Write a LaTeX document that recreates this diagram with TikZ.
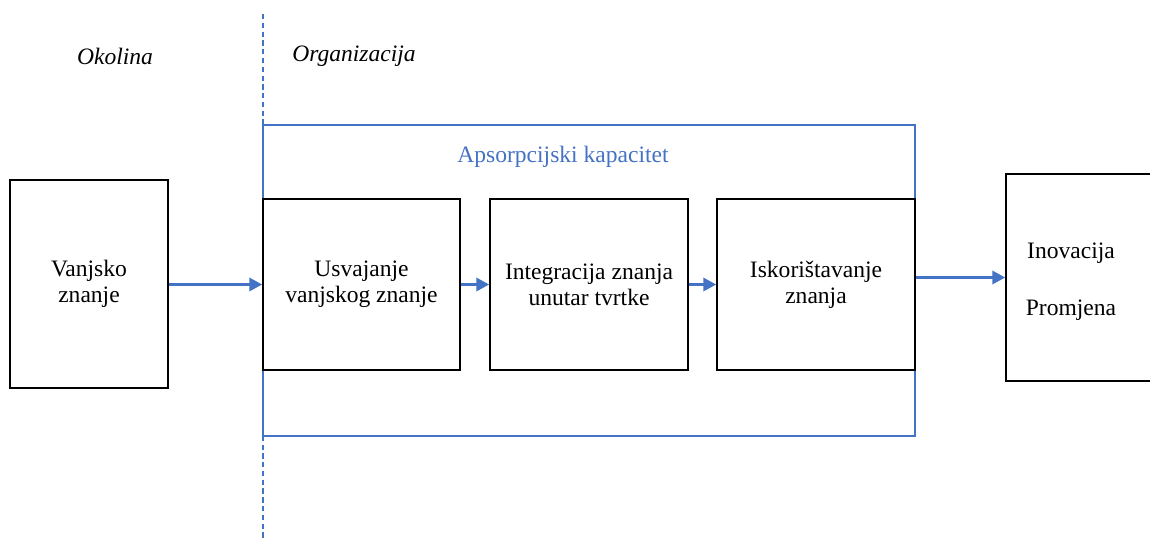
\documentclass[tikz,border=0pt]{standalone}
\usepackage{fontspec}
\setmainfont{Liberation Serif}
\usetikzlibrary{arrows.meta}
\definecolor{officeblue}{RGB}{68,114,196}

\begin{document}
\begin{tikzpicture}[x=0.2mm, y=-0.2mm,
		every node/.style={font=\fontsize{13.4}{14.8}\selectfont},
		stepbox/.style={draw=black, line width=0.8pt, align=center, inner sep=0pt},
		flow/.style={draw=officeblue, line width=1.9pt, -{Triangle[length=2.6mm, width=2.6mm]}},
		side/.style={font=\fontsize{13.4}{14.8}\itshape}]
	\useasboundingbox (0, 0) rectangle (1150, 540);
	
	% granica okolina / organizacija
	\draw[officeblue, line width=0.7pt, dash pattern=on 3pt off 2pt] (263, 14) -- (263, 540);
	\node[side] (okolina) at (115, 56) {Okolina};
	\node[side] (organizacija) at (354, 56) {Organizacija};
	
	% apsorpcijski kapacitet
	\draw[officeblue, line width=0.7pt] (263, 125) rectangle (915, 436);
	\node[text=officeblue] (kapacitet) at (563, 157) {Apsorpcijski kapacitet};
	
	\node[stepbox, minimum width=31.6mm, minimum height=41.6mm] (vanjsko) at (89, 284) {Vanjsko\\znanje};
	\node[stepbox, minimum width=39.4mm, minimum height=34.2mm] (usvajanje) at (361.5, 284.5) {Usvajanje\\vanjskog znanje};
	\node[stepbox, minimum width=39.6mm, minimum height=34.2mm] (integracija) at (589, 284.5) {Integracija znanja\\unutar tvrtke};
	\node[stepbox, minimum width=39.6mm, minimum height=34.2mm] (iskoristavanje) at (816, 284.5) {Iskorištavanje\\znanja};
	
	\node[stepbox, minimum width=34mm, minimum height=41.4mm] (ishod) at (1091, 277.5) {};
	\node (inovacija) at (1071, 253) {Inovacija};
	\node (promjena) at (1071, 310) {Promjena};
	
	\draw[flow] (vanjsko.east |- usvajanje.west) -- (usvajanje.west);
	\draw[flow] (usvajanje.east) -- (integracija.west);
	\draw[flow] (integracija.east) -- (iskoristavanje.west);
	\draw[flow] (iskoristavanje.east |- ishod.west) -- (ishod.west);
\end{tikzpicture}
\end{document}
